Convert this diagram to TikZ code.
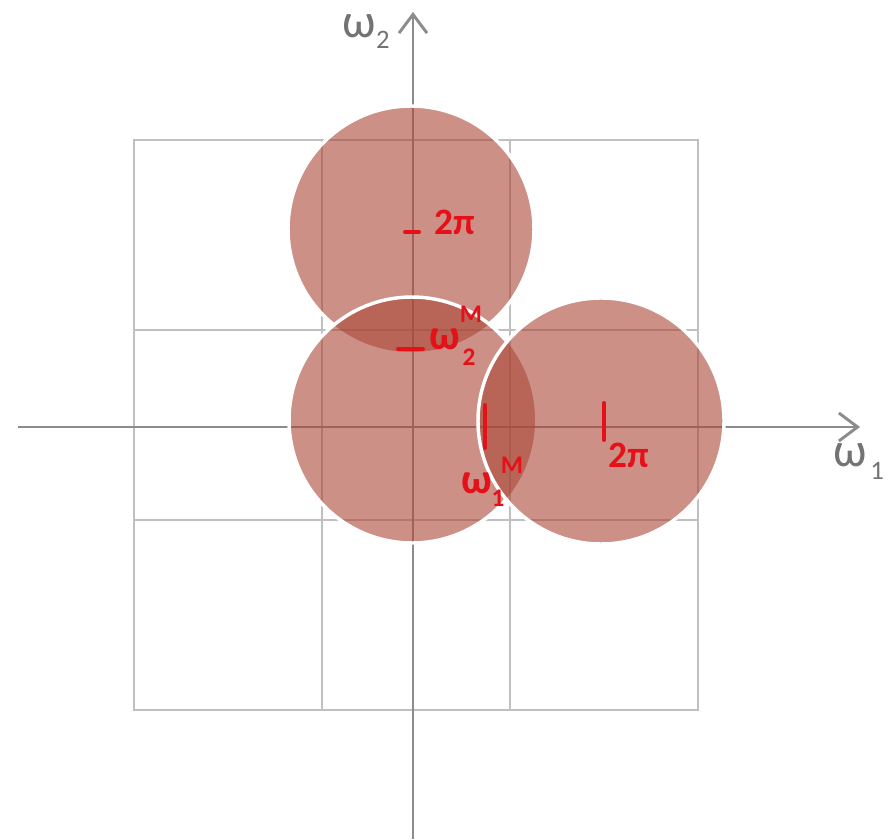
\documentclass[tikz,border=0pt]{standalone}
\usepackage{fontspec}
\setmainfont{Carlito}
\usetikzlibrary{arrows.meta}
\definecolor{gridgray}{RGB}{192,192,192}
\definecolor{axisgray}{RGB}{140,140,140}
\definecolor{discfill}{RGB}{170,70,55}
\definecolor{inkred}{RGB}{228,18,24}
\definecolor{labelgray}{RGB}{115,115,115}
\tikzset{
  gridline/.style={draw=gridgray, line width=1.8pt},
  axisline/.style={draw=axisgray, line width=2.2pt, -{Straight Barb[length=14pt,width=21pt,line width=2.2pt]}},
  disc/.style={fill=discfill, fill opacity=0.6},
  discedge/.style={draw=white, line width=2.6pt},
  tickmark/.style={draw=inkred, line width=3pt, line cap=round},
  axlabel/.style={text=labelgray, inner sep=0pt, font=\fontsize{36}{38}\selectfont},
  axsub/.style={text=labelgray, inner sep=0pt, font=\fontsize{20}{22}\selectfont},
  inkbig/.style={text=inkred, inner sep=0pt, font=\bfseries\fontsize{28}{30}\selectfont},
  inkw/.style={text=inkred, inner sep=0pt, font=\bfseries\fontsize{32}{34}\selectfont},
  inksmall/.style={text=inkred, inner sep=0pt, font=\bfseries\fontsize{19}{21}\selectfont}
}
\begin{document}
\begin{tikzpicture}[x=0.75pt,y=0.75pt]
\useasboundingbox (0,0) rectangle (895,839);
% grid
\draw[gridline] (134,129) rectangle (698,699);
\draw[gridline] (322,129) -- (322,699);
\draw[gridline] (510,129) -- (510,699);
\draw[gridline] (134,509) -- (698,509);
\draw[gridline] (134,319) -- (698,319);
% axes
\coordinate (yb) at (413,0);
\coordinate (yt) at (413,827);
\coordinate (xl) at (18,412);
\coordinate (xr) at (860,412);
\draw[axisline] (yb) -- (yt);
\draw[axisline] (xl) -- (xr);
% discs
\coordinate (T) at (411,610);
\coordinate (M) at (412,419);
\coordinate (R) at (601,418);
\fill[disc] (T) circle[radius=123];
\fill[disc] (M) circle[radius=123];
\fill[disc] (R) circle[radius=123];
\draw[discedge] ([shift={(-50.9:123)}]T) arc[start angle=-50.9, end angle=230.9, radius=123];
\draw[discedge] ([shift={(39.8:123)}]M) arc[start angle=39.8, end angle=320.2, radius=123];
\draw[discedge] (R) circle[radius=123];
% axis labels
\node[axlabel] (w2) at (359,813) {ω};
\node[axsub] (w2s) at (383,799) {2};
\node[axlabel] (w1) at (850,384) {ω};
\node[axsub] (w1s) at (877,368) {1};
% red annotations
\coordinate (t1a) at (405,607);
\coordinate (t1b) at (419,607);
\draw[tickmark] (t1a) -- (t1b);
\node[inkbig] (l1) at (455,617) {2π};
\coordinate (t2a) at (398,490);
\coordinate (t2b) at (423,490);
\draw[tickmark] (t2a) -- (t2b);
\node[inkw] (l2w) at (445,500) {ω};
\node[inksmall] (l2m) at (471,525) {M};
\node[inksmall] (l2s) at (469,482) {2};
\coordinate (t3a) at (485,434);
\coordinate (t3b) at (485,391);
\draw[tickmark] (t3a) -- (t3b);
\node[inkw] (l3w) at (477,356) {ω};
\node[inksmall] (l3s) at (498,341) {1};
\node[inksmall] (l3m) at (512,374) {M};
\coordinate (t4a) at (604,436);
\coordinate (t4b) at (604,399);
\draw[tickmark] (t4a) -- (t4b);
\node[inkbig] (l4) at (629,384) {2π};
\end{tikzpicture}
\end{document}
